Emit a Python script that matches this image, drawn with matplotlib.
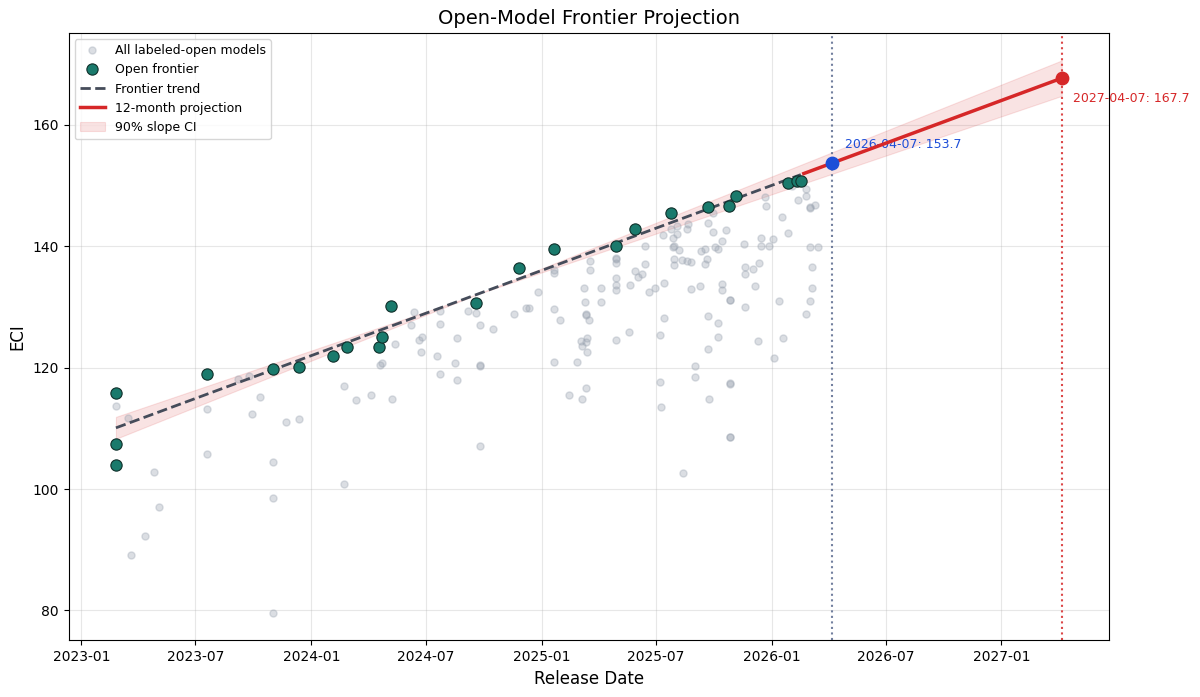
import numpy as np
import pandas as pd
import matplotlib
matplotlib.use("Agg")
import matplotlib.pyplot as plt
import matplotlib.dates as mdates
from matplotlib.lines import Line2D
from matplotlib.patches import Patch

# ---------------- data (release date as decimal year, ECI score) ----------------
ALL_YEAR = [
    2023.152, 2023.201, 2023.314, 2023.337, 2023.277, 2023.214,
    2023.545, 2023.545, 2023.680, 2023.729, 2023.775, 2023.741, 2023.891, 2023.947,
    2023.835, 2023.835, 2023.835,
    2024.141, 2024.193, 2024.258, 2024.352, 2024.141,
    2024.297, 2024.309, 2024.364, 2024.466, 2024.479, 2024.478, 2024.544, 2024.558, 2024.624, 2024.635, 2024.635,
    2024.432, 2024.447, 2024.560, 2024.560,
    2024.681, 2024.717, 2024.732, 2024.790, 2024.732, 2024.732, 2024.732, 2024.882, 2024.932, 2024.946, 2024.984,
    2025.054, 2025.054, 2025.054, 2025.082, 2025.054, 2025.120, 2025.155, 2025.178, 2025.193, 2025.170,
    2025.193, 2025.196, 2025.178, 2025.196, 2025.188, 2025.193, 2025.193, 2025.207, 2025.185, 2025.210,
    2025.210, 2025.257, 2025.257, 2025.323, 2025.323, 2025.323, 2025.323, 2025.323, 2025.323, 2025.323,
    2025.383, 2025.380, 2025.407, 2025.418, 2025.439, 2025.450, 2025.450, 2025.466, 2025.495, 2025.514,
    2025.514, 2025.522, 2025.527, 2025.534, 2025.534, 2025.564, 2025.573, 2025.573, 2025.578, 2025.578,
    2025.578, 2025.591, 2025.591, 2025.596, 2025.613, 2025.631, 2025.633, 2025.638, 2025.652, 2025.652,
    2025.616, 2025.668, 2025.668, 2025.689, 2025.692, 2025.711, 2025.711, 2025.718, 2025.725, 2025.725,
    2025.725, 2025.728, 2025.744, 2025.747, 2025.754, 2025.769, 2025.769, 2025.766, 2025.784, 2025.784,
    2025.784, 2025.804, 2025.822, 2025.822, 2025.822, 2025.822, 2025.822, 2025.822, 2025.880, 2025.886,
    2025.886, 2025.886, 2025.918, 2025.928, 2025.945, 2025.954, 2025.954, 2025.942, 2025.972, 2025.976,
    2025.990, 2026.008, 2026.010, 2026.032, 2026.046, 2026.049, 2026.074, 2026.090, 2026.116, 2026.149,
    2026.149, 2026.166, 2026.166, 2026.189, 2026.166, 2026.203, 2026.175, 2026.175, 2026.166, 2026.151,
]
ALL_ECI = [
    113.7, 111.7, 102.8, 97.1, 92.3, 89.1,
    113.2, 105.7, 118.1, 118.7, 115.1, 112.3, 111.0, 111.5,
    104.5, 98.6, 79.6,
    117.0, 114.7, 115.5, 114.8, 100.9,
    120.4, 120.8, 123.9, 124.5, 125.1, 122.5, 121.9, 119.0, 120.8, 117.9, 124.9,
    127.1, 129.1, 129.4, 127.2,
    129.4, 129.0, 127.0, 126.4, 120.4, 120.2, 107.1, 128.8, 129.75, 129.8, 132.5,
    129.7, 136.1, 135.65, 127.9, 120.9, 115.5, 120.9, 114.9, 116.7, 124.35,
    124.25, 124.95, 123.6, 122.6, 130.85, 128.9, 128.7, 127.9, 133.2, 136.1,
    137.5, 133.2, 130.85, 137.9, 138.0, 137.2, 134.7, 133.6, 132.85, 124.5,
    133.55, 125.8, 135.9, 135.0, 135.4, 137.1, 140.1, 132.4, 133.05, 125.3,
    117.7, 113.45, 141.8, 134.0, 128.2, 142.8, 141.3, 139.8, 140.1, 137.85,
    136.85, 142.0, 143.35, 139.4, 137.7, 137.6, 142.8, 143.6, 137.45, 132.95,
    102.65, 120.3, 118.5, 133.45, 139.2, 139.55, 137.1, 137.85, 143.8, 128.5,
    123.0, 114.8, 145.5, 142.3, 139.8, 139.5, 127.3, 125.0, 140.8, 133.7,
    132.8, 142.7, 131.1, 131.2, 117.4, 117.3, 108.6, 108.5, 140.4, 136.65,
    135.5, 130.0, 136.25, 133.45, 137.25, 141.4, 140.1, 124.45, 148.05, 146.55,
    140.1, 141.15, 121.6, 131.0, 144.9, 124.85, 142.2, 150.0, 147.65, 149.5,
    148.2, 146.4, 146.3, 146.8, 139.95, 139.8, 136.5, 133.05, 131.0, 128.9,
]

FRONTIER_YEAR = [2023.150, 2023.150, 2023.150, 2023.545, 2023.835, 2023.944, 2024.093,
                 2024.153, 2024.293, 2024.309, 2024.346, 2024.716, 2024.904, 2025.054,
                 2025.323, 2025.405, 2025.562, 2025.725, 2025.814, 2025.848, 2026.070,
                 2026.112, 2026.128]
FRONTIER_ECI = [115.8, 107.4, 104.0, 118.9, 119.7, 120.1, 121.9,
                123.4, 123.4, 125.0, 130.1, 130.7, 136.4, 139.5,
                140.0, 142.9, 145.4, 146.5, 146.7, 148.2, 150.5,
                150.7, 150.8]

NOW_DATE, NOW_ECI = "2026-04-07", 153.7
END_DATE, END_ECI = "2027-04-07", 167.7
PROJ_START_YEAR = 2026.141
SLOPE_CI_HALF_PER_YEAR = 1.15   # half-width of 90% slope CI (ECI / year)

# ---------------- helpers ----------------
BASE = pd.Timestamp("2023-01-01")


def to_dates(years):
    return (BASE + pd.to_timedelta((np.asarray(years, float) - 2023.0) * 365.25, unit="D")).to_numpy()


now_t = pd.Timestamp(NOW_DATE)
end_t = pd.Timestamp(END_DATE)
slope_per_day = (END_ECI - NOW_ECI) / (end_t - now_t).days


def trend(dates):
    d = (pd.to_datetime(dates) - now_t) / pd.Timedelta(days=1)
    return NOW_ECI + slope_per_day * np.asarray(d, float)


all_dates = to_dates(ALL_YEAR)
fr_dates = to_dates(FRONTIER_YEAR)
first_fr = fr_dates.min()
last_fr = fr_dates.max()
proj_start = to_dates([PROJ_START_YEAR])[0]
pivot = to_dates([np.mean(FRONTIER_YEAR)])[0]

# ---------------- figure ----------------
fig = plt.figure(figsize=(12, 6.97), dpi=100)
ax = fig.add_axes([0.0572, 0.0811, 0.9243 - 0.0572, 0.9529 - 0.0811])

C_RED = "#d62728"
C_BLUE = "#1d4ed8"
C_TEAL = "#1a7a6c"
C_TREND = "#454c5a"
C_GRAY = "#9aa3b0"

# CI band
band_days = np.linspace(0, (end_t - pd.Timestamp(first_fr)).days, 300)
band_dates = (pd.Timestamp(first_fr) + pd.to_timedelta(band_days, unit="D")).to_numpy()
center = trend(band_dates)
dist_years = np.abs(np.asarray((pd.to_datetime(band_dates) - pd.Timestamp(pivot)) / pd.Timedelta(days=1), float)) / 365.25
half = SLOPE_CI_HALF_PER_YEAR * dist_years
ax.fill_between(band_dates, center - half, center + half, color=C_RED, alpha=0.13,
                linewidth=0.8, zorder=1)

# all models
ax.scatter(all_dates, ALL_ECI, s=26, color=C_GRAY, alpha=0.35, zorder=2)

# trend line
tr_dates = np.array([first_fr, last_fr])
ax.plot(tr_dates, trend(tr_dates), ls="--", color=C_TREND, lw=2, zorder=3)

# frontier
ax.scatter(fr_dates, FRONTIER_ECI, s=66, color=C_TEAL, edgecolor="#10302b",
           linewidth=0.8, zorder=4)

# projection
pr_dates = np.array([proj_start, end_t.to_datetime64()])
ax.plot(pr_dates, trend(pr_dates), color=C_RED, lw=2.5, zorder=5)

# vertical markers
ax.axvline(now_t, color="#5a6a8e", ls=":", lw=1.5, alpha=0.85, zorder=2)
ax.axvline(end_t, color=C_RED, ls=":", lw=1.5, alpha=0.85, zorder=2)

# key points
ax.scatter([now_t], [NOW_ECI], s=80, color=C_BLUE, zorder=6)
ax.scatter([end_t], [END_ECI], s=80, color=C_RED, zorder=6)
ax.annotate(f"{NOW_DATE}: {NOW_ECI:.1f}", (now_t, NOW_ECI), xytext=(9, 9),
            textcoords="offset points", ha="left", va="bottom", color=C_BLUE, fontsize=9)
ax.annotate(f"{END_DATE}: {END_ECI:.1f}", (end_t, END_ECI), xytext=(8, -10),
            textcoords="offset points", ha="left", va="top", color=C_RED, fontsize=9)

# axes styling
ax.xaxis.set_major_locator(mdates.MonthLocator(bymonth=[1, 7]))
ax.xaxis.set_major_formatter(mdates.DateFormatter("%Y-%m"))
ax.grid(True, alpha=0.3)
ax.set_axisbelow(True)
ax.set_title("Open-Model Frontier Projection", fontsize=14)
ax.set_xlabel("Release Date", fontsize=12)
ax.set_ylabel("ECI", fontsize=12)

handles = [
    Line2D([], [], ls="none", marker="o", markersize=5.1, color=C_GRAY, alpha=0.35),
    Line2D([], [], ls="none", marker="o", markersize=8.1, markerfacecolor=C_TEAL,
           markeredgecolor="#10302b", markeredgewidth=0.8),
    Line2D([], [], ls="--", color=C_TREND, lw=2),
    Line2D([], [], color=C_RED, lw=2.5),
    Patch(facecolor=C_RED, alpha=0.13, edgecolor=C_RED, linewidth=0.8),
]
labels = ["All labeled-open models", "Open frontier", "Frontier trend",
          "12-month projection", "90% slope CI"]
ax.legend(handles, labels, loc="upper left", fontsize=9)

fig.savefig("out.png", dpi=100)
